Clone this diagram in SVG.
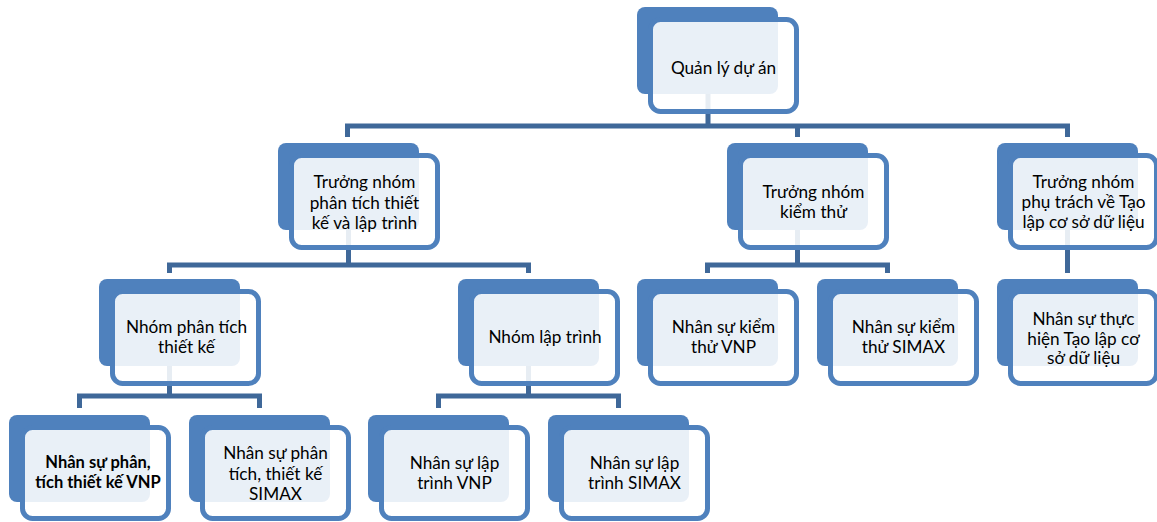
<svg xmlns="http://www.w3.org/2000/svg" width="1157" height="522" viewBox="0 0 1157 522">
<style>
.bk{fill:#4f81bd}
.fr{fill:#ffffff;fill-opacity:0.88;stroke:#4f81bd;stroke-width:5}
.cn{fill:none;stroke:#3f6899;stroke-width:5;stroke-linejoin:miter}
text{font-family:Lato,"Liberation Sans","Noto Sans",sans-serif;font-size:17.2px;fill:#000;text-anchor:middle}
.b{font-weight:bold;font-size:16.5px}
</style>
<rect width="1157" height="522" fill="#ffffff"/>
<g id="connectors">
<path class="cn" d="M708 92V126 M347.5 137V126H1067.5V137 M797.5 126V137"/>
<path class="cn" d="M348.5 230V265 M169.5 273V265H528.5V273"/>
<path class="cn" d="M797.5 230V265 M707.5 273V265H887.5V273"/>
<path class="cn" d="M1067.5 230V273"/>
<path class="cn" d="M169.5 366V396 M79.5 408V396H259.5V408"/>
<path class="cn" d="M528.5 366V396 M438.5 408V396H618.5V408"/>
</g>
<g id="n-root">
<rect class="bk" x="637" y="7" width="141" height="87" rx="8"/>
<rect class="fr" x="650.5" y="19.5" width="146" height="92" rx="10"/>
<text x="723.5" y="74">Quản lý dự án</text>
</g>
<g id="n-a">
<rect class="bk" x="278" y="143" width="141" height="87" rx="8"/>
<rect class="fr" x="291.5" y="155.5" width="146" height="92" rx="10"/>
<text x="364.5" y="188">Trưởng nhóm<tspan x="364.5" dy="20.5">phân tích thiết</tspan><tspan x="364.5" dy="20.5">kế và lập trình</tspan></text>
</g>
<g id="n-b">
<rect class="bk" x="727" y="143" width="141" height="87" rx="8"/>
<rect class="fr" x="740.5" y="155.5" width="146" height="92" rx="10"/>
<text x="813.5" y="198">Trưởng nhóm<tspan x="813.5" dy="19.5">kiểm thử</tspan></text>
</g>
<g id="n-c">
<rect class="bk" x="997" y="143" width="141" height="87" rx="8"/>
<rect class="fr" x="1010.5" y="155.5" width="146" height="92" rx="10"/>
<text x="1083.5" y="188">Trưởng nhóm<tspan x="1083.5" dy="20">phụ trách về Tạo</tspan><tspan x="1083.5" dy="20">lập cơ sở dữ liệu</tspan></text>
</g>
<g id="n-pt">
<rect class="bk" x="99" y="279" width="141" height="87" rx="8"/>
<rect class="fr" x="112.5" y="291.5" width="146" height="92" rx="10"/>
<text x="186.5" y="333">Nhóm phân tích<tspan x="186.5" dy="20">thiết kế</tspan></text>
</g>
<g id="n-lt">
<rect class="bk" x="458" y="279" width="141" height="87" rx="8"/>
<rect class="fr" x="471.5" y="291.5" width="146" height="92" rx="10"/>
<text x="545" y="343">Nhóm lập trình</text>
</g>
<g id="n-kt-vnp">
<rect class="bk" x="637" y="279" width="141" height="87" rx="8"/>
<rect class="fr" x="650.5" y="291.5" width="146" height="92" rx="10"/>
<text x="723.5" y="333">Nhân sự kiểm<tspan x="723.5" dy="20">thử VNP</tspan></text>
</g>
<g id="n-kt-simax">
<rect class="bk" x="817" y="279" width="141" height="87" rx="8"/>
<rect class="fr" x="830.5" y="291.5" width="146" height="92" rx="10"/>
<text x="903.5" y="333">Nhân sự kiểm<tspan x="903.5" dy="20">thử SIMAX</tspan></text>
</g>
<g id="n-csdl">
<rect class="bk" x="997" y="279" width="141" height="87" rx="8"/>
<rect class="fr" x="1010.5" y="291.5" width="146" height="92" rx="10"/>
<text x="1083.5" y="325">Nhân sự thực<tspan x="1083.5" dy="19.5">hiện Tạo lập cơ</tspan><tspan x="1083.5" dy="19.5">sở dữ liệu</tspan></text>
</g>
<g id="n-pt-vnp">
<rect class="bk" x="9" y="415" width="141" height="87" rx="8"/>
<rect class="fr" x="22.5" y="427.5" width="146" height="91" rx="10"/>
<text class="b" x="98" y="468">Nhân sự phân,<tspan x="98" dy="20">tích thiết kế VNP</tspan></text>
</g>
<g id="n-pt-simax">
<rect class="bk" x="189" y="415" width="141" height="87" rx="8"/>
<rect class="fr" x="202.5" y="427.5" width="146" height="91" rx="10"/>
<text x="275.5" y="459">Nhân sự phân<tspan x="275.5" dy="20.5">tích, thiết kế</tspan><tspan x="275.5" dy="20">SIMAX</tspan></text>
</g>
<g id="n-lt-vnp">
<rect class="bk" x="368" y="415" width="141" height="87" rx="8"/>
<rect class="fr" x="381.5" y="427.5" width="146" height="91" rx="10"/>
<text x="454.5" y="469">Nhân sự lập<tspan x="454.5" dy="20">trình VNP</tspan></text>
</g>
<g id="n-lt-simax">
<rect class="bk" x="548" y="415" width="141" height="87" rx="8"/>
<rect class="fr" x="561.5" y="427.5" width="146" height="91" rx="10"/>
<text x="634.5" y="469">Nhân sự lập<tspan x="634.5" dy="20">trình SIMAX</tspan></text>
</g>
</svg>
